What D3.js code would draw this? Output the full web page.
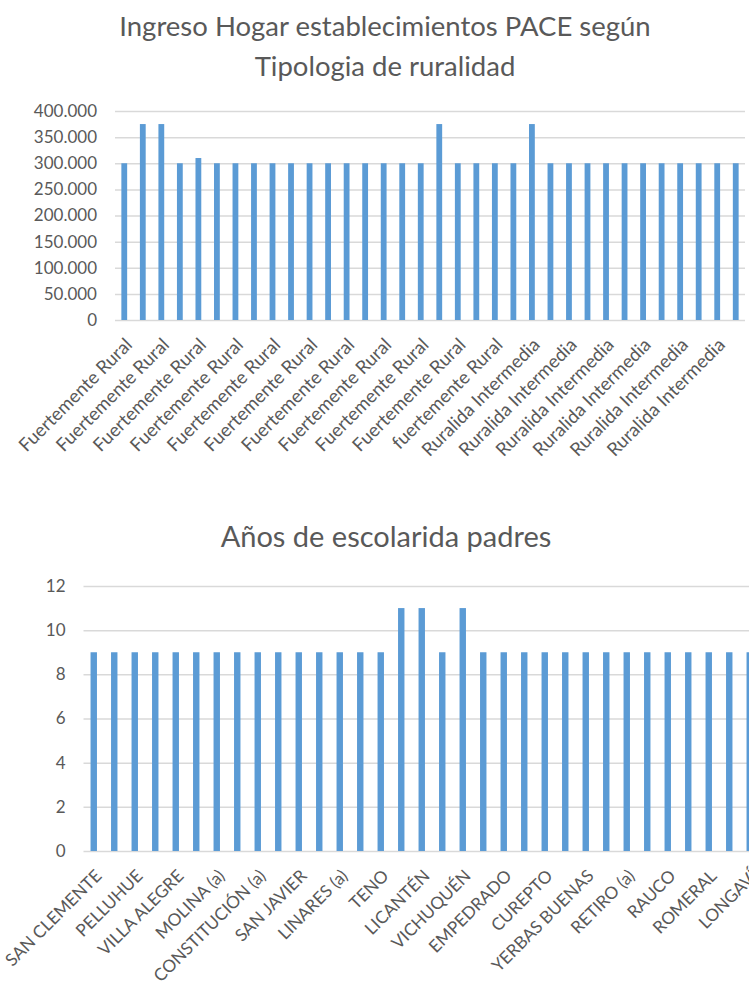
<!DOCTYPE html>
<html>
<head>
<meta charset="utf-8">
<script src="https://cdn.jsdelivr.net/npm/d3@7/dist/d3.min.js"></script>
<style>
  body { margin: 0; background: #fff; }
  svg text { font-family: Lato, "Open Sans", sans-serif; fill: #595959; }
</style>
</head>
<body>
<div id="main"></div>
<script>
// ---- data : chart 1 (ingreso hogar) ----
var ingreso_labels = [
  'Fuertemente Rural', 'Fuertemente Rural', 'Fuertemente Rural', 'Fuertemente Rural',
  'Fuertemente Rural', 'Fuertemente Rural', 'Fuertemente Rural', 'Fuertemente Rural',
  'Fuertemente Rural', 'Fuertemente Rural', 'Fuertemente Rural', 'Fuertemente Rural',
  'Fuertemente Rural', 'Fuertemente Rural', 'Fuertemente Rural', 'Fuertemente Rural',
  'Fuertemente Rural', 'Fuertemente Rural', 'Fuertemente Rural', 'Fuertemente Rural',
  'fuertemente Rural', 'Fuertemente Rural', 'Ruralida Intermedia', 'Ruralida Intermedia',
  'Ruralida Intermedia', 'Ruralida Intermedia', 'Ruralida Intermedia', 'Ruralida Intermedia',
  'Ruralida Intermedia', 'Ruralida Intermedia', 'Ruralida Intermedia', 'Ruralida Intermedia',
  'Ruralida Intermedia', 'Ruralida Intermedia'
];
var ingreso_values = [
  300000, 375000, 375000, 300000, 310000, 300000, 300000, 300000,
  300000, 300000, 300000, 300000, 300000, 300000, 300000, 300000,
  300000, 375000, 300000, 300000, 300000, 300000, 375000, 300000,
  300000, 300000, 300000, 300000, 300000, 300000, 300000, 300000,
  300000, 300000
];
var ingreso_ticks = [0, 50000, 100000, 150000, 200000, 250000, 300000, 350000, 400000];

// ---- data : chart 2 (escolaridad padres) ----
var escolaridad_labels = [
  'SAN CLEMENTE', 'CHANCO', 'PELLUHUE', 'COLBÚN', 'VILLA ALEGRE', 'PARRAL',
  'MOLINA (a)', 'MOLINA (b)', 'CONSTITUCIÓN (a)', 'CONSTITUCIÓN (b)', 'SAN JAVIER', 'CAUQUENES',
  'LINARES (a)', 'LINARES (b)', 'TENO', 'HUALAÑÉ', 'LICANTÉN', 'CURICÓ',
  'VICHUQUÉN', 'PENCAHUE', 'EMPEDRADO', 'MAULE', 'CUREPTO', 'PELARCO',
  'YERBAS BUENAS', 'RÍO CLARO', 'RETIRO (a)', 'RETIRO (b)', 'RAUCO', 'SAGRADA FAMILIA',
  'ROMERAL', 'SAN RAFAEL', 'LONGAVÍ', 'TALCA'
];
var escolaridad_values = [
  9, 9, 9, 9, 9, 9, 9, 9, 9, 9, 9, 9, 9, 9, 9, 11, 11, 9,
  11, 9, 9, 9, 9, 9, 9, 9, 9, 9, 9, 9, 9, 9, 9, 9
];
var escolaridad_ticks = [0, 2, 4, 6, 8, 10, 12];

var bar_color = '#5b9bd5';
var grid_color = '#d9d9d9';
var fmt_miles = function(v){ return d3.format(',')(v).replace(/,/g, '.'); };

var svg = d3.select('#main').append('svg')
  .attr('width', 749)
  .attr('height', 992);

/******************************************/
//        draw one excel-like column chart //
/******************************************/
function draw_chart(opts){
  var g = svg.append('g');

  var x = d3.scaleBand()
    .domain(d3.range(opts.values.length))
    .range([opts.left, opts.right])
    .paddingInner(0.687)
    .paddingOuter(0.3435);

  var y = d3.scaleLinear()
    .domain([0, d3.max(opts.ticks)])
    .range([opts.bottom, opts.top]);

  // titles
  opts.title.forEach(function(line, i){
    g.append('text')
      .attr('x', opts.title_x)
      .attr('y', opts.title_y + i*opts.title_step)
      .attr('text-anchor', 'middle')
      .attr('font-size', opts.title_size + 'px')
      .text(line);
  });

  // gridlines + y axis labels
  var yAxis = d3.axisLeft(y)
    .tickValues(opts.ticks)
    .tickSize(-(opts.right - opts.left))
    .tickPadding(18)
    .tickFormat(opts.fmt);

  var ya = g.append('g')
    .attr('transform', 'translate(' + opts.left + ',0)')
    .call(yAxis);
  ya.select('.domain').remove();
  ya.selectAll('.tick line')
    .attr('stroke', grid_color)
    .attr('stroke-width', 1.5);
  ya.selectAll('.tick text')
    .attr('font-size', opts.tick_size + 'px')
    .attr('fill', '#595959')
    .style('font-family', 'Lato, sans-serif');

  // bars
  g.append('g').selectAll('rect')
    .data(opts.values)
    .enter().append('rect')
    .attr('x', function(d, i){ return x(i); })
    .attr('y', function(d){ return y(d); })
    .attr('width', x.bandwidth())
    .attr('height', function(d){ return y(0) - y(d); })
    .attr('fill', bar_color);

  // category labels, every other one like excel does
  var xAxis = d3.axisBottom(x)
    .tickValues(d3.range(0, opts.values.length, 2))
    .tickSize(0)
    .tickFormat(function(i){ return opts.labels[i]; });

  var xa = g.append('g')
    .attr('transform', 'translate(0,' + opts.bottom + ')')
    .call(xAxis);
  xa.select('.domain').remove();
  xa.selectAll('.tick text')
    .attr('font-size', opts.label_size + 'px')
    .attr('fill', '#595959')
    .style('font-family', 'Lato, sans-serif')
    .attr('text-anchor', 'end')
    .attr('x', 0)
    .attr('y', 0)
    .attr('dy', 0)
    .attr('transform', 'translate(' + opts.label_dx + ',' + opts.label_dy + ') rotate(-45)');
}

draw_chart({
  values : ingreso_values,
  labels : ingreso_labels,
  ticks : ingreso_ticks,
  fmt : fmt_miles,
  left : 115, right : 745, top : 111, bottom : 320,
  title : ['Ingreso Hogar establecimientos PACE según', 'Tipologia de ruralidad'],
  title_x : 385, title_y : 36, title_step : 40, title_size : 27.5,
  tick_size : 17, label_size : 18.5, label_dx : 9, label_dy : 26
});

draw_chart({
  values : escolaridad_values,
  labels : escolaridad_labels,
  ticks : escolaridad_ticks,
  fmt : d3.format('d'),
  left : 83.5, right : 83.5 + 20.5*34, top : 586, bottom : 851,
  title : ['Años de escolarida padres'],
  title_x : 386, title_y : 547, title_step : 0, title_size : 29,
  tick_size : 17, label_size : 17.2, label_dx : 9, label_dy : 26
});
</script>
</body>
</html>
